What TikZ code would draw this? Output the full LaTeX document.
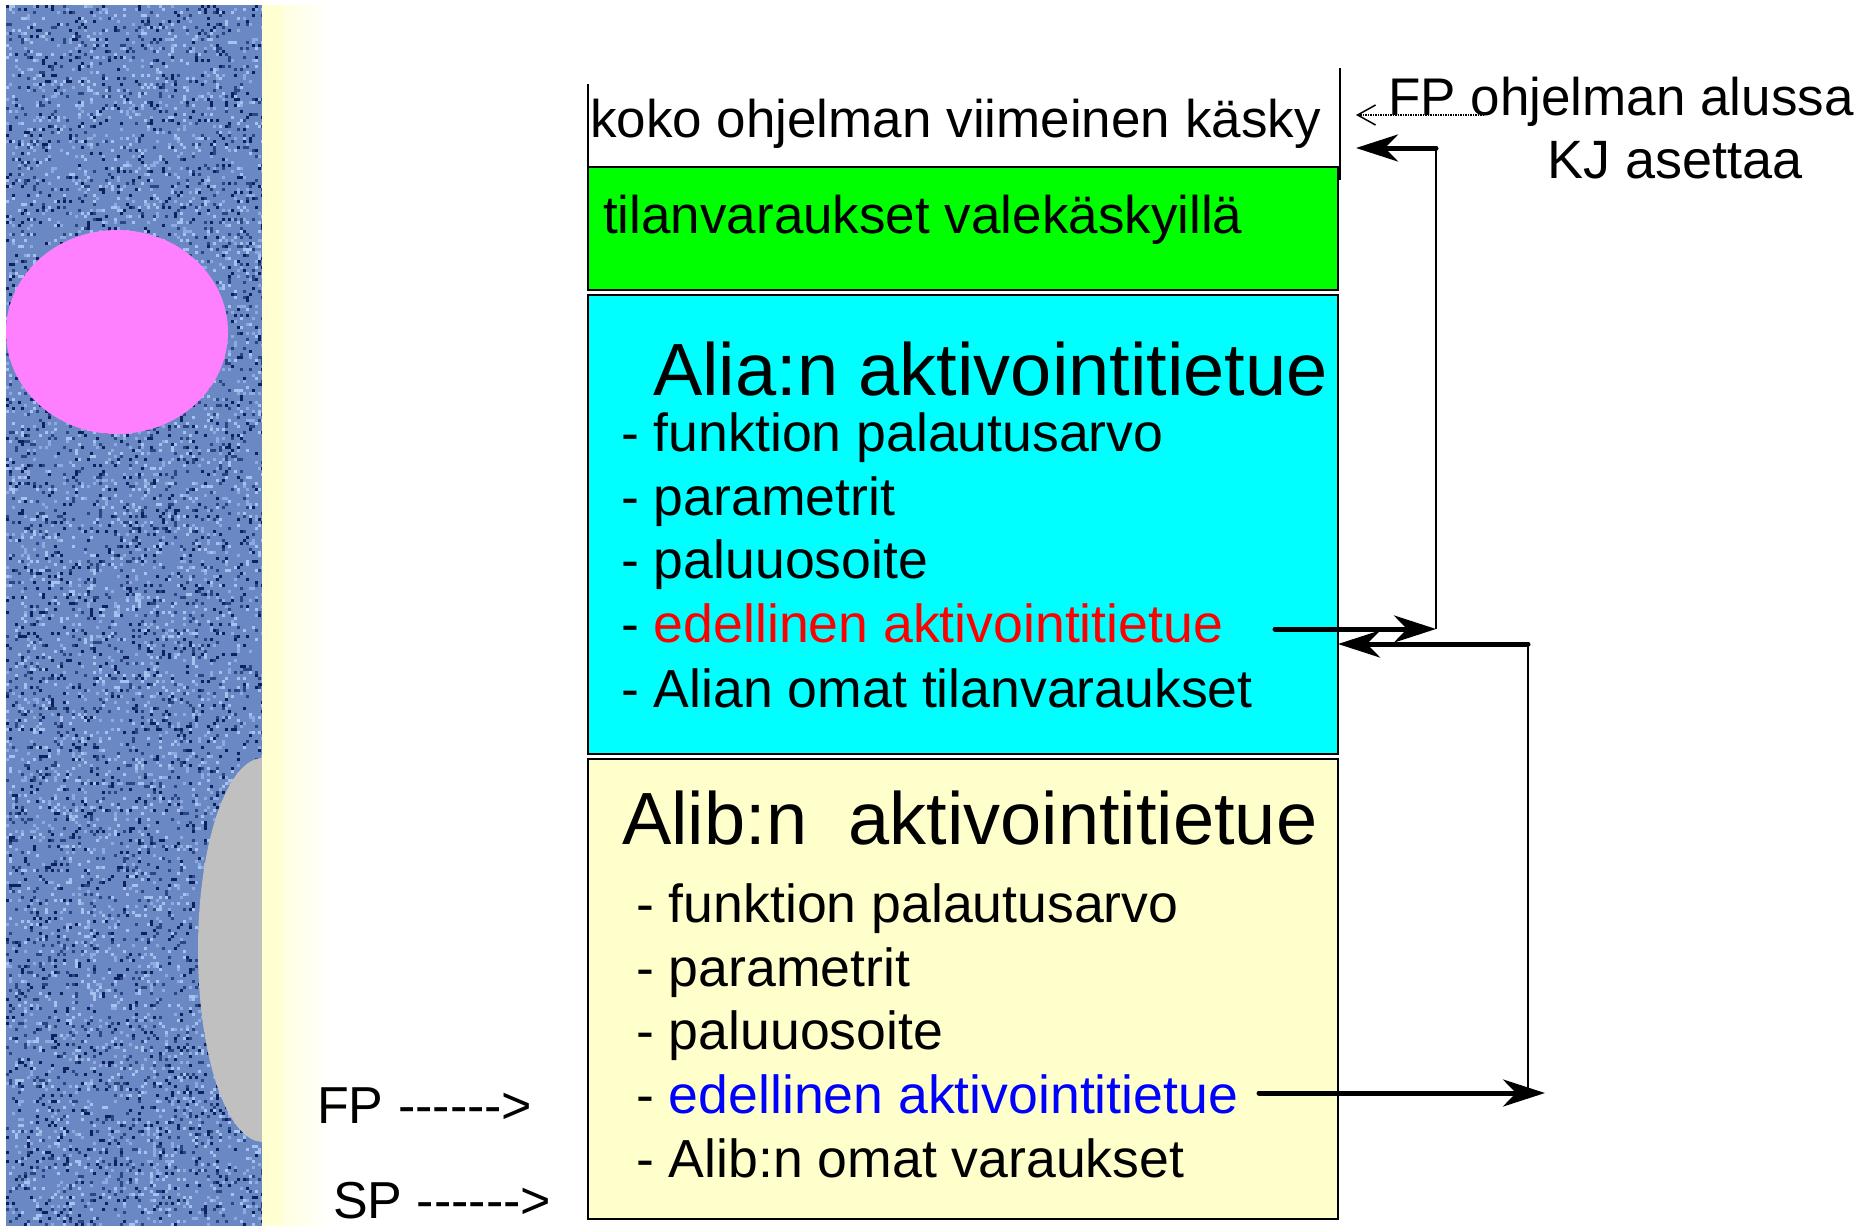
\documentclass[tikz,border=0pt]{standalone}
\usepackage{fontspec}
\setmainfont{Liberation Sans}
\newfontfamily\nomapfont{Liberation Sans}
\usetikzlibrary{arrows.meta}
\definecolor{texbase}{HTML}{6A89C4}
\definecolor{tex1}{HTML}{A8C2F0}
\definecolor{tex2}{HTML}{8FAAE0}
\definecolor{tex3}{HTML}{2A4784}
\definecolor{tex4}{HTML}{0E225E}
\definecolor{pinkc}{HTML}{FF80FF}
\definecolor{grayc}{HTML}{C0C0C0}
\definecolor{paleyellow}{HTML}{FFFFCC}
\definecolor{stripyellow}{HTML}{FFFFD2}
\definecolor{cyanfill}{HTML}{00FFFF}
\definecolor{greenfill}{HTML}{00FF00}
\definecolor{redtext}{HTML}{FF0000}
\definecolor{bluetext}{HTML}{0000FF}
\tikzset{
  txt/.style={anchor=base west, inner sep=0pt, font=\fontsize{53}{64}\selectfont},
  itemtxt/.style={anchor=base west, inner sep=0pt, font=\fontsize{53.6}{64}\selectfont},
  headtxt/.style={anchor=base west, inner sep=0pt, font=\fontsize{74}{88}\selectfont},
  boxline/.style={draw=black, line width=2pt},
  thinline/.style={draw=black, line width=1.6pt},
  thickarrow/.style={draw=black, line width=5pt, line cap=round,
    -{Stealth[length=42pt, width=27pt, inset=13pt]}},
  dotarrow/.style={draw=black, line width=1.5pt, densely dotted,
    -{Straight Barb[length=18pt, width=20pt, line width=1.5pt]}}
}
\begin{document}
\begin{tikzpicture}[x=1pt, y=-1pt]
\useasboundingbox (0,0) rectangle (1866,1226);
% textured side panel
\pgfmathsetseed{7}
\begin{scope}
\clip (6,5) rectangle (262,1226);
\fill[texbase] (6,5) rectangle (262,1226);
\foreach \i in {1,...,8500}{
  \pgfmathsetmacro\xx{6+random(0,85)*3}
  \pgfmathsetmacro\yy{5+random(0,407)*3}
  \pgfmathrandominteger{\cc}{1}{4}
  \fill[tex\cc] (\xx,\yy) rectangle ++(3,3);
}
\fill[pinkc] (117,332) ellipse [x radius=111, y radius=102];
\fill[grayc] (263,950) ellipse [x radius=65, y radius=192];
\end{scope}
\shade[left color=stripyellow, right color=white] (262,5) rectangle (330,1226);
\fill[stripyellow] (262,5) rectangle (282,1226);

% memory boxes
\draw[thinline] (588,84) -- (588,180);
\draw[thinline] (1340,68) -- (1340,180);
\node[txt] (last) at (590,137) {koko ohjelman viimeinen käsky};
\fill[greenfill] (588,167) rectangle (1338,290);
\draw[boxline] (588,167) rectangle (1338,290);
\node[txt] (valek) at (603,233) {tilanvaraukset valekäskyillä};

\fill[cyanfill] (588,295) rectangle (1338,754);
\draw[boxline] (588,295) rectangle (1338,754);
\node[headtxt] (aliahead) at (653,395) {Alia:n aktivointitietue};
\node[itemtxt] (a1) at (621,451) {- funktion palautusarvo};
\node[itemtxt] (a2) at (621,515) {- parametrit};
\node[itemtxt] (a3) at (621,578) {- paluuosoite};
\node[itemtxt] (a4) at (621,642) {- \textcolor{redtext}{edellinen aktivointitietue}};
\node[itemtxt] (a5) at (621,707) {- Alian omat tilanvaraukset};

\fill[paleyellow] (588,759) rectangle (1338,1219);
\draw[boxline] (588,759) rectangle (1338,1219);
\node[headtxt] (alibhead) at (622,844) {Alib:n\ \ aktivointitietue};
\node[itemtxt] (b1) at (636,922) {- funktion palautusarvo};
\node[itemtxt] (b2) at (636,986) {- parametrit};
\node[itemtxt] (b3) at (636,1049) {- paluuosoite};
\node[itemtxt] (b4) at (636,1113) {- \textcolor{bluetext}{edellinen aktivointitietue}};
\node[itemtxt] (b5) at (636,1177) {- Alib:n omat varaukset};

% side labels
\node[txt] (fpstart) at (1388,115) {FP ohjelman alussa};
\node[txt, font=\fontsize{54}{64}\selectfont] (kj) at (1547,178) {KJ asettaa};
\node[txt, font=\nomapfont\fontsize{52}{60}\selectfont] (fplab) at (317,1123) {FP ------>};
\node[txt, font=\nomapfont\fontsize{52}{60}\selectfont] (splab) at (333,1218) {SP ------>};

% connector points
\coordinate (fpTail) at (1484,115);
\coordinate (fpTip) at (1356,115);
\coordinate (kjCorner) at (1436,148);
\coordinate (kjTip) at (1356,148);
\coordinate (redStart) at (1275,629);
\coordinate (redTurn) at (1436,629);
\coordinate (retCorner) at (1528,644);
\coordinate (retTip) at (1338,644);
\coordinate (blueStart) at (1259,1093);
\coordinate (blueTip) at (1545,1093);
\coordinate (blueTurn) at (1528,1089);

% connectors
\draw[dotarrow] (fpTail) -- (fpTip);
\draw[thinline] (kjCorner) -- (redTurn);
\draw[thickarrow] (kjCorner) -- (kjTip);
\draw[thickarrow] (redStart) -- (redTurn);
\draw[thinline] (retCorner) -- (blueTurn);
\draw[thickarrow] (retCorner) -- (retTip);
\draw[thickarrow] (blueStart) -- (blueTip);
\end{tikzpicture}
\end{document}
